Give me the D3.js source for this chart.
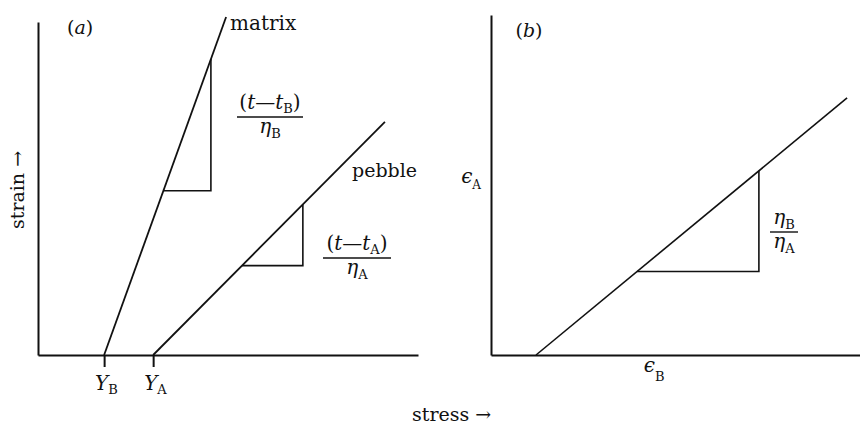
<!DOCTYPE html>
<html>
<head>
<meta charset="utf-8">
<script src="https://cdn.jsdelivr.net/npm/d3@7"></script>
<style>
  html, body { margin: 0; padding: 0; background: #fff; }
  svg { display: block; }
  text { font-family: "DejaVu Serif", "Liberation Serif", serif; fill: #111; }
  .it { font-style: italic; }
</style>
</head>
<body>
<svg id="chart" width="860" height="424"></svg>
<script>
// Panel (a): stress–strain lines for matrix and pebble (arbitrary units)
const yieldNames   = ["B", "A"];          // subscripts of the yield stresses
const yieldStress  = [1.74, 3.03];        // Y_B, Y_A on the stress axis
const matrixLine   = [[1.74, 0], [4.95, 10.15]];
const pebbleLine   = [[3.03, 0], [9.13, 7.0]];
const matrixSlope  = [3.30, 4.55];        // stress span of the slope triangle on the matrix line
const pebbleSlope  = [5.37, 6.97];        // stress span of the slope triangle on the pebble line

// Panel (b): strain of pebble against strain of matrix
const ratioLine    = [[1.22, 0], [9.65, 7.56]];
const ratioSlope   = [3.96, 7.26];
const epsALevel    = 5.05;                // position of the ϵ_A label on the vertical axis
const epsBLevel    = 4.42;                // position of the ϵ_B label on the horizontal axis

const svg = d3.select("#chart");
const INK = "#111";

// value of a straight line at a given abscissa
function lineAt(pts, x) {
  const [[x0, y0], [x1, y1]] = pts;
  return y0 + (y1 - y0) * (x - x0) / (x1 - x0);
}

// text with an optional subscript; parts: [{t, it}] followed by a subscript
function label(g, x, y, parts, sub, size, subSize, subDy, anchor) {
  const t = g.append("text").attr("x", x).attr("y", y)
    .attr("font-size", size).attr("text-anchor", anchor || "start");
  parts.forEach(p => t.append("tspan").attr("class", p.it ? "it" : null).text(p.t));
  if (sub) {
    t.append("tspan").attr("font-size", subSize).attr("dy", subDy).text(sub.t);
  }
  return t;
}

// ---------- panel (a) ----------
const xa = d3.scaleLinear().domain([0, 10]).range([38, 418]);
const ya = d3.scaleLinear().domain([0, 10]).range([355, 22]);
const ga = svg.append("g");

const axA_x = ga.append("g").attr("transform", `translate(0,${ya(0)})`)
  .call(d3.axisBottom(xa).tickValues(yieldStress).tickSize(12).tickSizeOuter(0).tickFormat(""));
const axA_y = ga.append("g").attr("transform", `translate(${xa(0)},0)`)
  .call(d3.axisLeft(ya).tickValues([]).tickSizeOuter(0));
[axA_x, axA_y].forEach(a => {
  a.select(".domain").attr("stroke", INK).attr("stroke-width", 2);
  a.selectAll(".tick line").attr("stroke", INK).attr("stroke-width", 2);
});

const lineGen = (xs, ys) => d3.line().x(d => xs(d[0])).y(d => ys(d[1]));

ga.append("path").datum(matrixLine).attr("d", lineGen(xa, ya))
  .attr("fill", "none").attr("stroke", INK).attr("stroke-width", 1.8);
ga.append("path").datum(pebbleLine).attr("d", lineGen(xa, ya))
  .attr("fill", "none").attr("stroke", INK).attr("stroke-width", 1.8);

// slope triangle: horizontal leg from the lower point, vertical leg up to the line
function slopeTriangle(g, xs, ys, line, span) {
  const [s0, s1] = span;
  const pts = [[s0, lineAt(line, s0)], [s1, lineAt(line, s0)], [s1, lineAt(line, s1)]];
  g.append("path").datum(pts).attr("d", lineGen(xs, ys))
    .attr("fill", "none").attr("stroke", INK).attr("stroke-width", 1.6);
}
slopeTriangle(ga, xa, ya, matrixLine, matrixSlope);
slopeTriangle(ga, xa, ya, pebbleLine, pebbleSlope);

// tick labels Y_B, Y_A
yieldStress.forEach((v, i) => {
  label(ga, xa(v) - 9, 390, [{ t: "Y", it: true }], { t: yieldNames[i] }, 20, 13, 4);
});

// panel letter and line names
label(ga, 67, 34, [{ t: "(" }, { t: "a", it: true }, { t: ")" }], null, 19);
ga.append("text").attr("x", 230).attr("y", 30).attr("font-size", 20).text("matrix");
ga.append("text").attr("x", 352).attr("y", 177).attr("font-size", 19).text("pebble");

// fraction helper
function fraction(g, cx, barY, barHalf, num, den) {
  g.append("line").attr("x1", cx - barHalf).attr("x2", cx + barHalf)
    .attr("y1", barY).attr("y2", barY).attr("stroke", INK).attr("stroke-width", 1.4);
  num(g, cx, barY - 8);
  den(g, cx, barY + 16);
}
const numT = s => (g, cx, y) => {
  const t = g.append("text").attr("x", cx).attr("y", y).attr("font-size", 20).attr("text-anchor", "middle");
  t.append("tspan").text("(");
  t.append("tspan").attr("class", "it").text("t");
  t.append("tspan").text("\u2014");
  t.append("tspan").attr("class", "it").text("t");
  t.append("tspan").attr("font-size", 13).attr("dy", 4).text(s);
  t.append("tspan").attr("dy", -4).text(")");
};
const etaT = (s, size) => (g, cx, y) => {
  const t = g.append("text").attr("x", cx).attr("y", y).attr("font-size", size || 20).attr("text-anchor", "middle");
  t.append("tspan").attr("class", "it").text("\u03B7");
  t.append("tspan").attr("font-size", 13).attr("dy", 5).text(s);
};

fraction(ga, 270, 117, 33, numT("B"), etaT("B"));
fraction(ga, 357, 258, 34, numT("A"), etaT("A"));

// axis titles shared by both panels
ga.append("text").attr("transform", "translate(24,229) rotate(-90)")
  .attr("font-size", 19).text("strain \u2192");
svg.append("text").attr("x", 412).attr("y", 421).attr("font-size", 19).text("stress \u2192");

// ---------- panel (b) ----------
const xb = d3.scaleLinear().domain([0, 10]).range([491, 860]);
const yb = d3.scaleLinear().domain([0, 10]).range([355, 15]);
const gb = svg.append("g");

const axB_x = gb.append("g").attr("transform", `translate(0,${yb(0)})`)
  .call(d3.axisBottom(xb).tickValues([epsBLevel]).tickSize(0).tickSizeOuter(0).tickFormat(""));
const axB_y = gb.append("g").attr("transform", `translate(${xb(0)},0)`)
  .call(d3.axisLeft(yb).tickValues([epsALevel]).tickSize(0).tickSizeOuter(0).tickFormat(""));
[axB_x, axB_y].forEach(a => a.select(".domain").attr("stroke", INK).attr("stroke-width", 2));

gb.append("path").datum(ratioLine).attr("d", lineGen(xb, yb))
  .attr("fill", "none").attr("stroke", INK).attr("stroke-width", 1.6);
slopeTriangle(gb, xb, yb, ratioLine, ratioSlope);

label(gb, 529, 37, [{ t: "(" }, { t: "b", it: true }, { t: ")" }], null, 19, null, null, "middle");

// ϵ labels placed at their axis positions
label(gb, xb(0) - 10, yb(epsALevel), [{ t: "\u03F5", it: true }], { t: "A" }, 20, 12, 6, "end");
label(gb, xb(epsBLevel), 372, [{ t: "\u03F5", it: true }], { t: "B" }, 20, 13, 9, "middle");

fraction(gb, 784, 232, 14, etaT("B"), etaT("A"));
</script>
</body>
</html>
